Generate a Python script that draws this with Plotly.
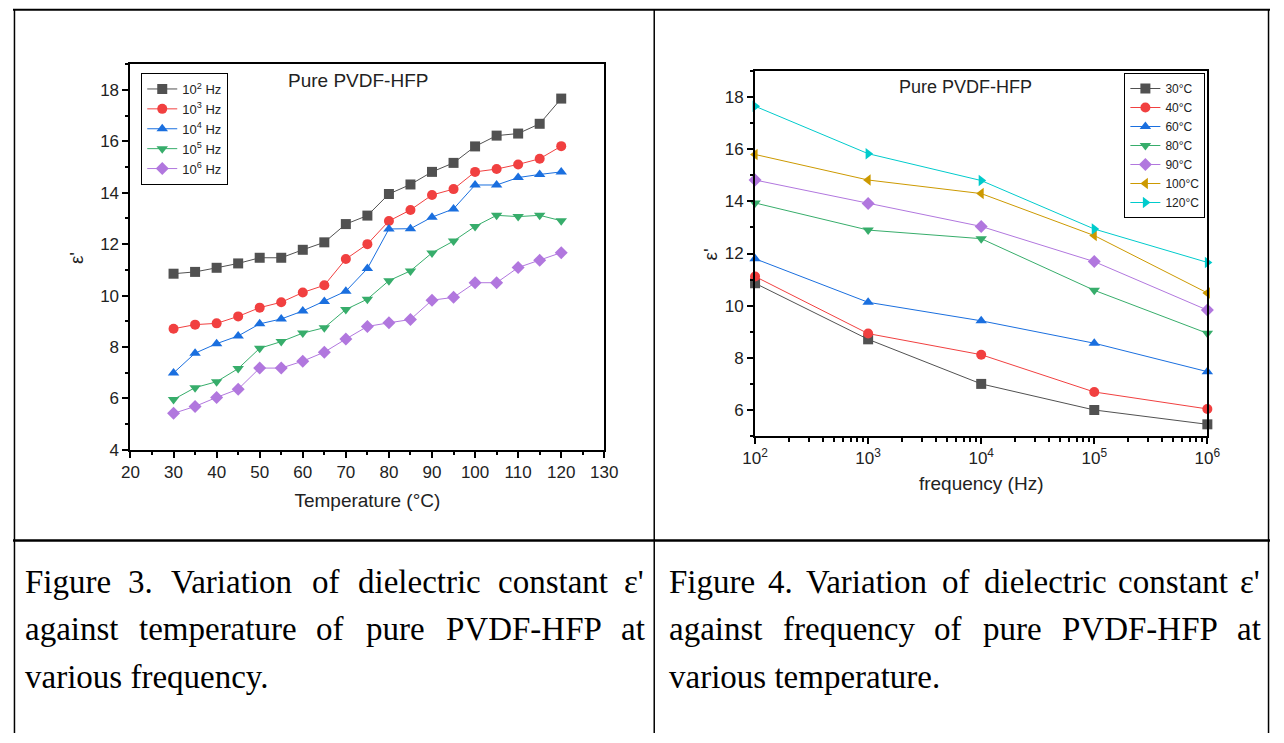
import plotly.graph_objects as go

# ---------------- data ----------------
temperature_C = [30, 35, 40, 45, 50, 55, 60, 65, 70, 75, 80, 85, 90, 95, 100, 105, 110, 115, 120]
eps_1e2 = [10.85, 10.92, 11.08, 11.25, 11.47, 11.47, 11.78, 12.07, 12.78, 13.11, 13.95, 14.32, 14.81, 15.16, 15.80, 16.22, 16.30, 16.68, 17.66]
eps_1e3 = [8.71, 8.87, 8.92, 9.19, 9.53, 9.74, 10.12, 10.40, 11.42, 12.00, 12.90, 13.33, 13.91, 14.14, 14.81, 14.92, 15.10, 15.32, 15.81]
eps_1e4 = [6.99, 7.76, 8.13, 8.43, 8.90, 9.09, 9.40, 9.77, 10.17, 11.05, 12.59, 12.60, 13.05, 13.37, 14.30, 14.30, 14.59, 14.71, 14.81]
eps_1e5 = [5.96, 6.42, 6.65, 7.16, 7.95, 8.21, 8.54, 8.75, 9.46, 9.86, 10.58, 10.96, 11.66, 12.12, 12.69, 13.12, 13.07, 13.12, 12.91]
eps_1e6 = [5.42, 5.69, 6.04, 6.36, 7.18, 7.18, 7.45, 7.80, 8.31, 8.80, 8.94, 9.07, 9.82, 9.93, 10.50, 10.50, 11.09, 11.37, 11.67]
freq_labels = ["10<sup>2</sup> Hz", "10<sup>3</sup> Hz", "10<sup>4</sup> Hz", "10<sup>5</sup> Hz", "10<sup>6</sup> Hz"]

frequency_Hz = [1e2, 1e3, 1e4, 1e5, 1e6]
eps_30C = [10.86, 8.71, 7.00, 6.00, 5.45]
eps_40C = [11.12, 8.93, 8.12, 6.69, 6.04]
eps_60C = [11.80, 10.13, 9.42, 8.56, 7.47]
eps_80C = [13.94, 12.90, 12.57, 10.59, 8.94]
eps_90C = [14.82, 13.92, 13.04, 11.69, 9.83]
eps_100C = [15.80, 14.82, 14.30, 12.69, 10.49]
eps_120C = [17.65, 15.83, 14.80, 12.94, 11.66]
temp_labels = ["30°C", "40°C", "60°C", "80°C", "90°C", "100°C", "120°C"]

x_ticks_left = [20, 30, 40, 50, 60, 70, 80, 90, 100, 110, 120, 130]
y_ticks_left = [4, 6, 8, 10, 12, 14, 16, 18]
y_ticks_right = [6, 8, 10, 12, 14, 16, 18]
x_ticks_right = [1e2, 1e3, 1e4, 1e5, 1e6]
x_ticktext_right = ["10<sup>2</sup>", "10<sup>3</sup>", "10<sup>4</sup>", "10<sup>5</sup>", "10<sup>6</sup>"]

caption_left = ["Figure 3. Variation of dielectric constant ε'",
                "against temperature of pure PVDF-HFP at",
                "various frequency."]
caption_right = ["Figure 4. Variation of dielectric constant ε'",
                 "against frequency of pure PVDF-HFP at",
                 "various temperature."]

# ---------------- styling ----------------
W, H = 1284, 743
COLORS = ["#515151", "#F14040", "#1A6FDF", "#37AD6B", "#B177DE", "#CC9900", "#00CBCC"]
SYMBOLS = ["square", "circle", "triangle-up", "triangle-down", "diamond", "triangle-left", "triangle-right"]
SANS = "Arial, Liberation Sans, sans-serif"
SERIF = "Times New Roman, Liberation Serif, serif"


def px(x):
    return x / W


def py(y):
    return 1 - y / H


fig = go.Figure()

left_series = [eps_1e2, eps_1e3, eps_1e4, eps_1e5, eps_1e6]
for i, (vals, name) in enumerate(zip(left_series, freq_labels)):
    fig.add_trace(go.Scatter(
        x=temperature_C, y=vals, name=name, mode="lines+markers",
        xaxis="x", yaxis="y", legend="legend",
        line=dict(color=COLORS[i], width=1),
        marker=dict(symbol=SYMBOLS[i], size=10, color=COLORS[i]),
        cliponaxis=False,
    ))

right_series = [eps_30C, eps_40C, eps_60C, eps_80C, eps_90C, eps_100C, eps_120C]
for i, (vals, name) in enumerate(zip(right_series, temp_labels)):
    fig.add_trace(go.Scatter(
        x=frequency_Hz, y=vals, name=name, mode="lines+markers",
        xaxis="x2", yaxis="y2", legend="legend2",
        line=dict(color=COLORS[i], width=1),
        marker=dict(symbol=SYMBOLS[i], size=10, color=COLORS[i]),
        cliponaxis=False,
    ))

axis_common = dict(
    showline=True, mirror=True, linecolor="black", linewidth=2,
    ticks="outside", ticklen=6, tickwidth=1.5, tickcolor="black",
    showgrid=False, zeroline=False,
    tickfont=dict(family=SANS, size=17, color="#222"),
)
minor_common = dict(ticks="outside", ticklen=3.5, tickwidth=1.5, tickcolor="black")

fig.update_layout(
    width=W, height=H,
    margin=dict(l=0, r=0, t=0, b=0),
    paper_bgcolor="white", plot_bgcolor="white",
    xaxis=dict(
        domain=[px(120), px(604)], range=[20, 130], anchor="y",
        tickvals=x_ticks_left,
        minor=dict(dtick=5, tick0=20, **minor_common),
        title=dict(text="Temperature (°C)", font=dict(family=SANS, size=19, color="#222"), standoff=12),
        **axis_common),
    yaxis=dict(
        domain=[py(456), py(65)], range=[4, 19], anchor="x",
        tickvals=y_ticks_left,
        minor=dict(dtick=1, tick0=4, **minor_common),
        **axis_common),
    xaxis2=dict(
        domain=[px(758), px(1220)], type="log", range=[2, 6], anchor="y2",
        tickvals=x_ticks_right, ticktext=x_ticktext_right,
        minor=dict(dtick="D1", **minor_common),
        title=dict(text="frequency (Hz)", font=dict(family=SANS, size=19, color="#222"), standoff=9),
        **axis_common),
    yaxis2=dict(
        domain=[py(442), py(72)], range=[5, 19], anchor="x2",
        tickvals=y_ticks_right,
        minor=dict(dtick=1, tick0=5, **minor_common),
        **axis_common),
    legend=dict(
        x=px(131), y=py(74), xanchor="left", yanchor="top",
        bgcolor="white", bordercolor="black", borderwidth=1,
        font=dict(family=SANS, size=13, color="#222"),
        tracegroupgap=0, itemwidth=30,
    ),
    legend2=dict(
        x=px(1218), y=py(74), xanchor="right", yanchor="top",
        bgcolor="white", bordercolor="black", borderwidth=1,
        font=dict(family=SANS, size=12, color="#222"),
        tracegroupgap=0, itemwidth=30,
    ),
    showlegend=True,
)

# chart titles and y-axis titles
annots = [
    dict(text="Pure PVDF-HFP", x=px(352), y=py(82), font=dict(family=SANS, size=19, color="#222")),
    dict(text="Pure PVDF-HFP", x=px(973), y=py(88), font=dict(family=SANS, size=18, color="#222")),
    dict(text="ε'", x=px(65), y=py(262), textangle=-90, font=dict(family=SANS, size=19, color="#222")),
    dict(text="ε'", x=px(713), y=py(258), textangle=-90, font=dict(family=SANS, size=19, color="#222")),
]
for a in annots:
    fig.add_annotation(xref="paper", yref="paper", showarrow=False,
                       xanchor="center", yanchor="middle", **a)

# ---------------- captions (justified, Times metrics) ----------------
TIMES_W = {" ": 250, "'": 180, ".": 250, "-": 333, "ε": 439}
TIMES_W.update({d: 500 for d in "0123456789"})
TIMES_W.update(dict(zip("ABCDEFGHIJKLMNOPQRSTUVWXYZ",
                        [722, 667, 667, 722, 611, 556, 722, 722, 333, 389, 722, 611, 889,
                         722, 722, 556, 722, 667, 556, 611, 722, 722, 944, 722, 722, 611])))
TIMES_W.update(dict(zip("abcdefghijklmnopqrstuvwxyz",
                        [444, 500, 444, 500, 444, 333, 500, 500, 278, 278, 500, 278, 778,
                         500, 500, 500, 500, 333, 389, 278, 500, 500, 722, 500, 500, 444])))
CAP_SIZE = 33


def text_w(s):
    return sum(TIMES_W.get(c, 500) for c in s) / 1000 * CAP_SIZE


def add_caption(lines, left, right, ys):
    for k, (line, yc) in enumerate(zip(lines, ys)):
        words = line.split(" ")
        if k == len(lines) - 1:
            fig.add_annotation(xref="paper", yref="paper", showarrow=False, text=line,
                               x=px(left), y=py(yc), xanchor="left", yanchor="middle",
                               borderpad=0, borderwidth=0,
                               font=dict(family=SERIF, size=CAP_SIZE, color="black"))
            continue
        total = sum(text_w(w) for w in words)
        gap = (right - left - total) / (len(words) - 1)
        xpos = left
        for w in words:
            fig.add_annotation(xref="paper", yref="paper", showarrow=False, text=w,
                               x=px(xpos), y=py(yc), xanchor="left", yanchor="middle",
                               borderpad=0, borderwidth=0,
                               font=dict(family=SERIF, size=CAP_SIZE, color="black"))
            xpos += text_w(w) + gap


cap_y = [590, 638, 686]
add_caption(caption_left, 12, 645, cap_y)
add_caption(caption_right, 670, 1274, cap_y)

# ---------------- table borders ----------------
border = [
    dict(x0=0, y0=10, x1=W, y1=10, w=2),             # top
    dict(x0=1.5, y0=10, x1=1.5, y1=H, w=1.5),        # left
    dict(x0=1282.5, y0=10, x1=1282.5, y1=H, w=1.5),  # right
    dict(x0=655, y0=10, x1=655, y1=H, w=1.5),        # middle vertical
    dict(x0=0, y0=548, x1=W, y1=548, w=2.5),         # middle horizontal
]
for b in border:
    fig.add_shape(type="line", xref="paper", yref="paper",
                  x0=px(b["x0"]), y0=py(b["y0"]), x1=px(b["x1"]), y1=py(b["y1"]),
                  line=dict(color="black", width=b["w"]), layer="above")

fig.write_html("out.html")
